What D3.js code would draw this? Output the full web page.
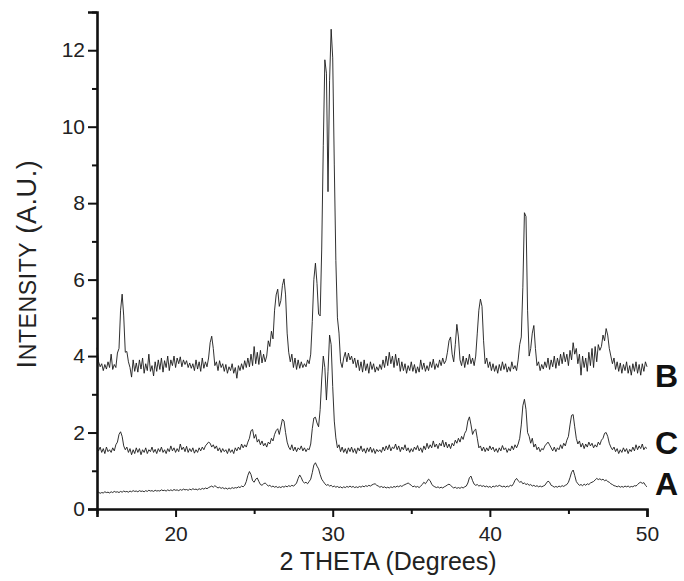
<!DOCTYPE html>
<html>
<head>
<meta charset="utf-8">
<script src="https://cdn.jsdelivr.net/npm/d3@7"></script>
<style>
  body { margin: 0; background: #fff; }
  svg { display: block; font-family: "Liberation Sans", Arial, sans-serif; }
</style>
</head>
<body>
<script>
// 2-theta grid: first angle and step (degrees)
var thetaStart = 15, thetaStep = 0.1;

// pattern B (top)
var traceB = [
  4.22,3.85,3.72,3.80,3.62,3.78,3.66,3.85,3.70,4.05,
  3.65,3.78,3.70,4.08,4.20,5.20,5.62,5.05,4.10,4.12,
  3.85,3.70,3.45,3.90,3.60,3.82,3.58,3.90,3.66,3.95,
  3.55,3.80,3.62,4.05,3.60,3.75,3.48,3.85,3.60,3.90,
  3.65,3.95,3.58,3.88,3.70,4.00,3.62,3.90,3.75,4.00,
  3.70,3.95,3.80,3.98,3.72,3.90,3.78,3.88,3.70,3.82,
  3.68,3.80,3.62,3.90,3.66,3.85,3.60,3.95,3.68,3.85,
  3.72,3.95,4.35,4.52,4.20,3.75,3.85,3.62,3.88,3.70,
  3.80,3.60,3.78,3.55,3.72,3.62,3.80,3.55,3.70,3.42,
  3.75,3.62,3.80,3.65,3.88,3.70,3.95,3.72,4.05,3.75,
  4.25,3.80,4.10,3.78,4.15,3.82,4.05,3.85,4.00,4.40,
  4.25,4.65,4.45,5.20,5.60,5.75,5.30,5.45,5.85,6.02,
  5.60,4.60,4.10,3.85,4.05,3.70,3.95,3.65,3.90,3.68,
  3.85,3.70,3.80,3.72,3.90,3.80,4.05,4.90,6.00,6.43,
  5.90,5.10,5.05,6.80,9.50,11.75,11.40,8.30,11.20,12.55,
  11.80,9.00,6.50,5.00,4.60,3.85,3.70,3.95,4.10,3.85,
  4.08,3.90,4.00,3.80,3.95,3.70,3.90,3.62,3.85,3.58,
  3.90,3.62,3.80,3.55,3.85,3.65,3.80,3.58,3.72,3.62,
  3.78,3.65,3.90,3.70,4.00,3.75,4.10,3.80,4.00,3.70,
  4.05,3.75,3.95,3.60,3.85,3.62,3.80,3.55,3.75,3.62,
  3.85,3.60,3.78,3.55,3.72,3.58,3.90,3.65,3.82,3.60,
  3.75,3.62,3.85,3.70,3.92,3.65,3.80,3.70,3.90,3.75,
  3.95,3.80,3.88,4.10,4.40,4.50,4.05,3.85,4.30,4.83,
  4.50,3.90,3.75,4.00,3.70,3.95,3.78,4.05,3.80,3.95,
  3.75,4.00,4.60,5.20,5.49,5.30,4.40,3.80,3.95,3.70,
  3.85,3.62,3.80,3.60,3.75,3.55,3.78,3.62,3.85,3.65,
  3.80,3.58,3.72,3.60,3.85,3.66,3.75,3.62,3.90,4.30,
  4.50,5.80,7.75,7.65,5.20,4.00,4.20,4.60,4.80,4.20,
  3.75,3.85,3.62,3.78,3.66,3.85,3.70,3.95,3.65,3.90,
  3.72,4.00,3.68,3.95,3.75,4.05,3.80,4.10,3.85,4.05,
  3.75,4.15,3.90,4.35,4.05,4.20,3.80,4.05,3.50,4.00,
  3.70,3.95,3.60,4.10,3.75,4.20,3.70,4.25,3.85,4.30,
  4.15,4.25,4.55,4.40,4.72,4.55,4.20,4.00,3.80,3.95,
  3.65,3.85,3.60,3.82,3.55,3.78,3.62,3.85,3.55,3.75,
  3.50,3.80,3.60,3.85,3.55,3.78,3.50,3.80,3.60,3.85,
  3.72
];

// pattern C (middle)
var traceC = [
  1.60,1.52,1.62,1.48,1.58,1.45,1.62,1.50,1.55,1.48,
  1.60,1.52,1.68,1.75,1.95,2.02,1.90,1.65,1.55,1.62,
  1.48,1.58,1.42,1.55,1.45,1.60,1.48,1.58,1.42,1.55,
  1.48,1.60,1.45,1.55,1.50,1.62,1.48,1.56,1.45,1.58,
  1.50,1.62,1.48,1.55,1.45,1.58,1.50,1.65,1.52,1.60,
  1.48,1.58,1.50,1.70,1.55,1.62,1.50,1.64,1.48,1.58,
  1.50,1.60,1.46,1.55,1.48,1.60,1.52,1.62,1.55,1.65,
  1.70,1.75,1.72,1.62,1.68,1.58,1.65,1.52,1.60,1.48,
  1.58,1.50,1.55,1.45,1.58,1.48,1.55,1.45,1.60,1.52,
  1.62,1.55,1.70,1.60,1.68,1.62,1.75,1.85,2.05,2.08,
  1.85,1.95,1.75,1.82,1.68,1.78,1.65,1.72,1.62,1.75,
  1.70,1.85,1.78,1.95,2.05,2.10,1.95,2.15,2.35,2.30,
  2.00,1.75,1.62,1.55,1.68,1.52,1.62,1.50,1.60,1.55,
  1.65,1.52,1.60,1.50,1.58,1.55,1.70,2.10,2.38,2.40,
  2.25,2.15,2.60,3.40,4.00,3.70,2.85,3.60,4.55,4.30,
  3.20,2.30,1.86,1.60,1.68,1.50,1.62,1.48,1.58,1.45,
  1.60,1.50,1.62,1.48,1.58,1.45,1.60,1.52,1.65,1.50,
  1.58,1.46,1.60,1.50,1.62,1.48,1.58,1.45,1.56,1.50,
  1.55,1.48,1.62,1.52,1.65,1.55,1.68,1.52,1.62,1.58,
  1.70,1.55,1.65,1.50,1.62,1.55,1.68,1.52,1.60,1.48,
  1.58,1.50,1.62,1.55,1.66,1.52,1.60,1.48,1.65,1.55,
  1.72,1.58,1.68,1.60,1.78,1.62,1.70,1.58,1.72,1.65,
  1.80,1.62,1.75,1.60,1.70,1.58,1.72,1.65,1.80,1.72,
  1.85,1.75,1.90,1.82,1.98,2.05,2.30,2.41,2.20,1.95,
  2.05,2.09,1.85,1.60,1.65,1.52,1.62,1.50,1.60,1.52,
  1.65,1.55,1.62,1.50,1.58,1.48,1.60,1.52,1.66,1.55,
  1.60,1.48,1.58,1.52,1.65,1.55,1.68,1.60,1.70,1.85,
  2.20,2.70,2.87,2.60,2.00,1.90,1.72,1.85,1.62,1.70,
  1.55,1.62,1.50,1.58,1.55,1.65,1.70,1.75,1.68,1.60,
  1.52,1.62,1.50,1.60,1.55,1.68,1.58,1.72,1.65,1.80,
  1.90,2.20,2.45,2.47,2.15,1.85,1.70,1.78,1.62,1.72,
  1.58,1.70,1.62,1.75,1.65,1.72,1.60,1.68,1.62,1.75,
  1.68,1.80,1.85,1.98,2.00,1.90,1.72,1.62,1.55,1.62,
  1.50,1.58,1.45,1.55,1.48,1.60,1.50,1.58,1.45,1.56,
  1.50,1.62,1.52,1.68,1.55,1.65,1.58,1.70,1.55,1.62,
  1.58
];

// pattern A (bottom)
var traceA = [
  0.42,0.44,0.41,0.43,0.42,0.45,0.43,0.44,0.42,0.45,
  0.43,0.46,0.44,0.45,0.43,0.46,0.44,0.47,0.45,0.46,
  0.44,0.47,0.45,0.48,0.46,0.47,0.45,0.48,0.46,0.47,
  0.45,0.48,0.46,0.49,0.47,0.48,0.46,0.49,0.47,0.48,
  0.47,0.50,0.48,0.49,0.47,0.50,0.48,0.50,0.48,0.51,
  0.49,0.50,0.48,0.51,0.49,0.52,0.50,0.51,0.49,0.52,
  0.50,0.53,0.51,0.52,0.50,0.53,0.51,0.54,0.52,0.55,
  0.53,0.56,0.58,0.60,0.57,0.61,0.58,0.55,0.57,0.54,
  0.56,0.53,0.55,0.52,0.55,0.53,0.56,0.54,0.56,0.55,
  0.58,0.56,0.60,0.58,0.62,0.72,0.88,0.98,0.90,0.74,
  0.70,0.78,0.81,0.72,0.64,0.62,0.66,0.68,0.64,0.60,
  0.62,0.58,0.60,0.57,0.59,0.56,0.58,0.56,0.59,0.57,
  0.60,0.58,0.61,0.59,0.62,0.60,0.63,0.68,0.80,0.89,
  0.82,0.72,0.68,0.70,0.66,0.72,0.78,0.95,1.15,1.21,
  1.12,1.05,0.90,0.78,0.72,0.66,0.62,0.64,0.60,0.62,
  0.58,0.60,0.57,0.59,0.56,0.58,0.55,0.58,0.56,0.59,
  0.57,0.60,0.57,0.59,0.56,0.58,0.56,0.59,0.57,0.60,
  0.58,0.61,0.59,0.62,0.60,0.63,0.65,0.66,0.62,0.60,
  0.57,0.59,0.56,0.58,0.55,0.57,0.55,0.58,0.56,0.59,
  0.57,0.60,0.58,0.61,0.59,0.62,0.64,0.66,0.68,0.65,
  0.62,0.58,0.60,0.57,0.59,0.56,0.60,0.64,0.70,0.66,
  0.72,0.78,0.74,0.65,0.60,0.58,0.56,0.58,0.55,0.57,
  0.55,0.58,0.60,0.63,0.65,0.62,0.58,0.55,0.57,0.54,
  0.56,0.54,0.57,0.55,0.58,0.60,0.68,0.82,0.86,0.74,
  0.65,0.62,0.64,0.60,0.62,0.59,0.61,0.58,0.60,0.57,
  0.59,0.56,0.60,0.58,0.61,0.59,0.62,0.60,0.58,0.60,
  0.57,0.60,0.58,0.62,0.60,0.66,0.75,0.80,0.74,0.70,
  0.72,0.66,0.68,0.64,0.66,0.62,0.64,0.60,0.62,0.59,
  0.61,0.58,0.60,0.58,0.60,0.62,0.68,0.73,0.70,0.62,
  0.60,0.57,0.59,0.57,0.60,0.58,0.61,0.59,0.62,0.64,
  0.70,0.82,0.96,1.02,0.88,0.72,0.66,0.62,0.64,0.61,
  0.65,0.62,0.66,0.64,0.68,0.70,0.72,0.76,0.80,0.77,
  0.79,0.76,0.78,0.74,0.76,0.72,0.70,0.66,0.64,0.61,
  0.60,0.58,0.60,0.57,0.59,0.57,0.60,0.58,0.60,0.57,
  0.59,0.58,0.61,0.60,0.64,0.68,0.70,0.67,0.69,0.62,
  0.58
];

var seriesNames = ["B", "C", "A"];
var xMajorTicks = [20, 30, 40, 50],
    xMinorTicks = [15, 25, 35, 45],
    yMajorTicks = [0, 2, 4, 6, 8, 10, 12],
    yMinorTicks = [1, 3, 5, 7, 9, 11, 13];

var width = 684, height = 581;
var margin = {left: 97, right: 37, top: 12, bottom: 72};

var svg = d3.select("body").append("svg")
  .attr("width", width)
  .attr("height", height);

var x = d3.scaleLinear().domain([15, 50]).range([margin.left, width - margin.right]);
var y = d3.scaleLinear().domain([0, 13]).range([height - margin.bottom, margin.top]);

// traces
var line = d3.line()
  .x(function(d, i) { return x(thetaStart + i * thetaStep); })
  .y(function(d) { return y(d); });

var traces = [traceB, traceC, traceA];
svg.append("g").selectAll("path")
  .data(traces)
  .enter().append("path")
    .attr("d", line)
    .attr("fill", "none")
    .attr("stroke", "#1a1a1a")
    .attr("stroke-width", 0.9)
    .attr("stroke-linejoin", "round");

// series letters, placed at the end of each trace
svg.append("g").selectAll("text")
  .data(seriesNames)
  .enter().append("text")
    .attr("x", x(50) + 8)
    .attr("y", function(d, i) { return y(traces[i][traces[i].length - 1]) + [20, 5, 8][i]; })
    .attr("font-size", 32)
    .attr("font-weight", "bold")
    .attr("fill", "#111")
    .text(function(d) { return d; });

// axes
svg.append("g")
  .attr("transform", "translate(0," + y(0) + ")")
  .call(d3.axisBottom(x).tickValues(xMajorTicks).tickSize(8).tickPadding(9).tickFormat(d3.format("d")));
svg.append("g")
  .attr("transform", "translate(0," + y(0) + ")")
  .call(d3.axisBottom(x).tickValues(xMinorTicks).tickSize(5).tickFormat(""))
  .select(".domain").remove();

svg.append("g")
  .attr("transform", "translate(" + x(15) + ",0)")
  .call(d3.axisLeft(y).tickValues(yMajorTicks).tickSize(9).tickPadding(3).tickFormat(d3.format("d")));
svg.append("g")
  .attr("transform", "translate(" + x(15) + ",0)")
  .call(d3.axisLeft(y).tickValues(yMinorTicks).tickSize(5).tickFormat(""))
  .select(".domain").remove();

svg.selectAll(".domain")
  .attr("stroke", "#111")
  .attr("stroke-width", 2.6);
svg.selectAll(".tick line")
  .attr("stroke", "#111")
  .attr("stroke-width", 2);
svg.selectAll(".tick text")
  .attr("font-family", "'Liberation Sans', Arial, sans-serif")
  .attr("font-size", 21)
  .attr("fill", "#222");

// axis titles
svg.append("text")
  .attr("x", 388)
  .attr("y", height - 11)
  .attr("text-anchor", "middle")
  .attr("font-size", 25)
  .attr("fill", "#222")
  .text("2 THETA (Degrees)");

var yTitle = svg.append("text")
  .attr("transform", "translate(36,264) rotate(-90)")
  .attr("text-anchor", "middle")
  .attr("fill", "#222")
  .attr("letter-spacing", 0.6)
  .attr("font-size", 27);
yTitle.append("tspan").text("I");
yTitle.append("tspan").attr("font-size", 23).text("NTENSITY");
yTitle.append("tspan").text(" (A.U.)");
</script>
</body>
</html>
